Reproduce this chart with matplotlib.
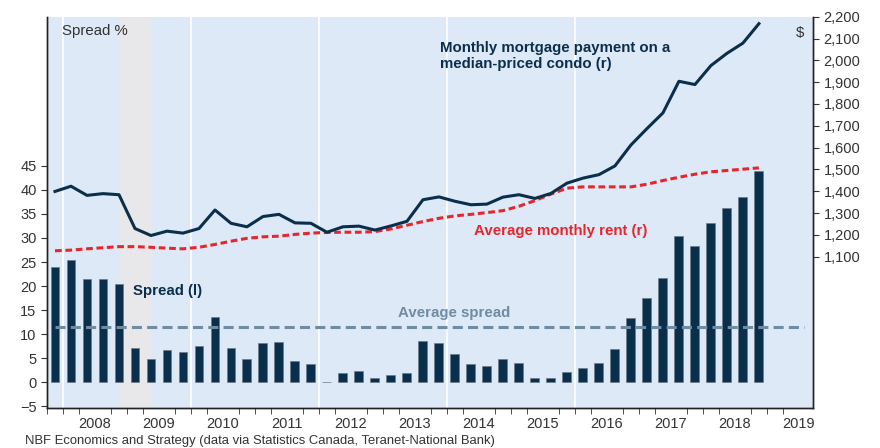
import matplotlib.pyplot as plt
import matplotlib.ticker as mticker
import numpy as np

plt.rcParams['font.family'] = ['Liberation Sans', 'DejaVu Sans']

# quarterly data, Q4 2007 .. Q4 2018
start_year = 2007.75
spread = [24.0, 25.5, 21.4, 21.4, 20.4, 7.1, 4.8, 6.7, 6.2, 7.5, 13.5, 7.2,
          4.9, 8.1, 8.3, 4.4, 3.8, 0.1, 2.0, 2.3, 0.8, 1.5, 2.0, 8.6, 8.1,
          5.8, 3.9, 3.4, 4.9, 4.1, 0.9, 0.8, 2.2, 2.9, 4.1, 6.9, 13.3, 17.6,
          21.7, 30.5, 28.3, 33.2, 36.2, 38.5, 43.9]
mortgage = [1399, 1423, 1381, 1389, 1384, 1229, 1197, 1217, 1208, 1229, 1314,
            1253, 1237, 1284, 1294, 1255, 1253, 1212, 1237, 1240, 1222, 1241,
            1262, 1361, 1374, 1354, 1338, 1341, 1373, 1384, 1367, 1390, 1437,
            1460, 1476, 1516, 1612, 1687, 1759, 1904, 1889, 1976, 2032, 2079,
            2168]
rent = [1127, 1130, 1136, 1141, 1146, 1146, 1143, 1139, 1136, 1143, 1156,
        1171, 1184, 1191, 1194, 1202, 1208, 1211, 1212, 1212, 1215, 1227,
        1244, 1261, 1276, 1287, 1294, 1302, 1311, 1331, 1357, 1387, 1414,
        1420, 1420, 1420, 1420, 1432, 1449, 1464, 1478, 1489, 1495, 1501,
        1507]
avg_spread = 11.5
years = list(range(2008, 2020))
recession = (2008.875, 2009.375)

navy = "#0a2f4c"
red = "#e5262d"
avg_col = "#6f8ca3"
bg = "#dde9f6"
txt = "#333333"

x = start_year + 0.125 + 0.25 * np.arange(len(spread))

fig = plt.figure(figsize=(8.8, 4.48), dpi=100)
ax = fig.add_axes([47 / 880, 1 - 408.3 / 448, (813 - 47) / 880, (408.3 - 16.7) / 448])
ax.set_facecolor(bg)
ax.axvspan(*recession, color="#e8e8ea", zorder=0, lw=0)
for yr in years[::2][:-1]:
    ax.axvline(yr, color="white", lw=1.2, zorder=0.5)

ax.bar(x, spread, width=0.14, color=navy, edgecolor="#6b7c8a", linewidth=0.5, zorder=2)
ax.plot([x[0], 2019.58], [avg_spread, avg_spread], color=avg_col, lw=2.2,
        dashes=(3.3, 1.7), zorder=3)

ax.set_xlim(2007.75, 2019.72)
ax.set_ylim(-5.4, 76)
ax.set_yticks(range(-5, 50, 5))
# year labels centred between quarterly ticks
ax.set_xticks([y + 0.5 for y in years], labels=[str(y) for y in years])
ax.xaxis.set_minor_locator(mticker.FixedLocator([start_year + 0.25 * i for i in range(49)]))
ax.tick_params(axis="x", which="major", length=0, labelsize=10.5, labelcolor=txt, pad=6)
ax.tick_params(axis="x", which="minor", length=4, color=txt)
ax.tick_params(axis="y", length=4, color=txt, labelsize=10.5, labelcolor=txt)

ax2 = ax.twinx()
ax2.plot(x, mortgage, color=navy, lw=2.2, zorder=4)
ax2.plot(x, rent, color=red, lw=2.2, dashes=(2.2, 1.2), zorder=3)
ax2.set_ylim(405, 2190)
ax2.set_yticks(range(1100, 2300, 100))
ax2.yaxis.set_major_formatter(mticker.StrMethodFormatter("{x:,.0f}"))
ax2.tick_params(axis="y", length=4, color=txt, labelsize=10.5, labelcolor=txt)

for a in (ax, ax2):
    a.spines["top"].set_visible(False)
    for s in ("left", "right", "bottom"):
        a.spines[s].set_color("#222222")
        a.spines[s].set_linewidth(1)

ax.text(2007.98, 73.0, "Spread %", fontsize=10.8, color=txt, va="center")
ax.text(2019.52, 72.6, "$", fontsize=10.8, color=txt, va="center", ha="center")
ax.text(2013.89, 67.8, "Monthly mortgage payment on a\nmedian-priced condo (r)",
        fontsize=10.8, fontweight="bold", color=navy, va="center", linespacing=1.2)
ax.text(2014.42, 31.5, "Average monthly rent (r)", fontsize=10.8, fontweight="bold",
        color=red, va="center")
ax.text(2009.09, 19.0, "Spread (l)", fontsize=10.8, fontweight="bold", color=navy, va="center")
ax.text(2013.23, 14.5, "Average spread", fontsize=10.8, fontweight="bold", color=avg_col,
        va="center")

fig.text(25 / 880, 1 - 441 / 448, "NBF Economics and Strategy (data via Statistics Canada, "
         "Teranet-National Bank)", fontsize=9.4, color=txt, va="center")

fig.savefig("out.png", dpi=100)
